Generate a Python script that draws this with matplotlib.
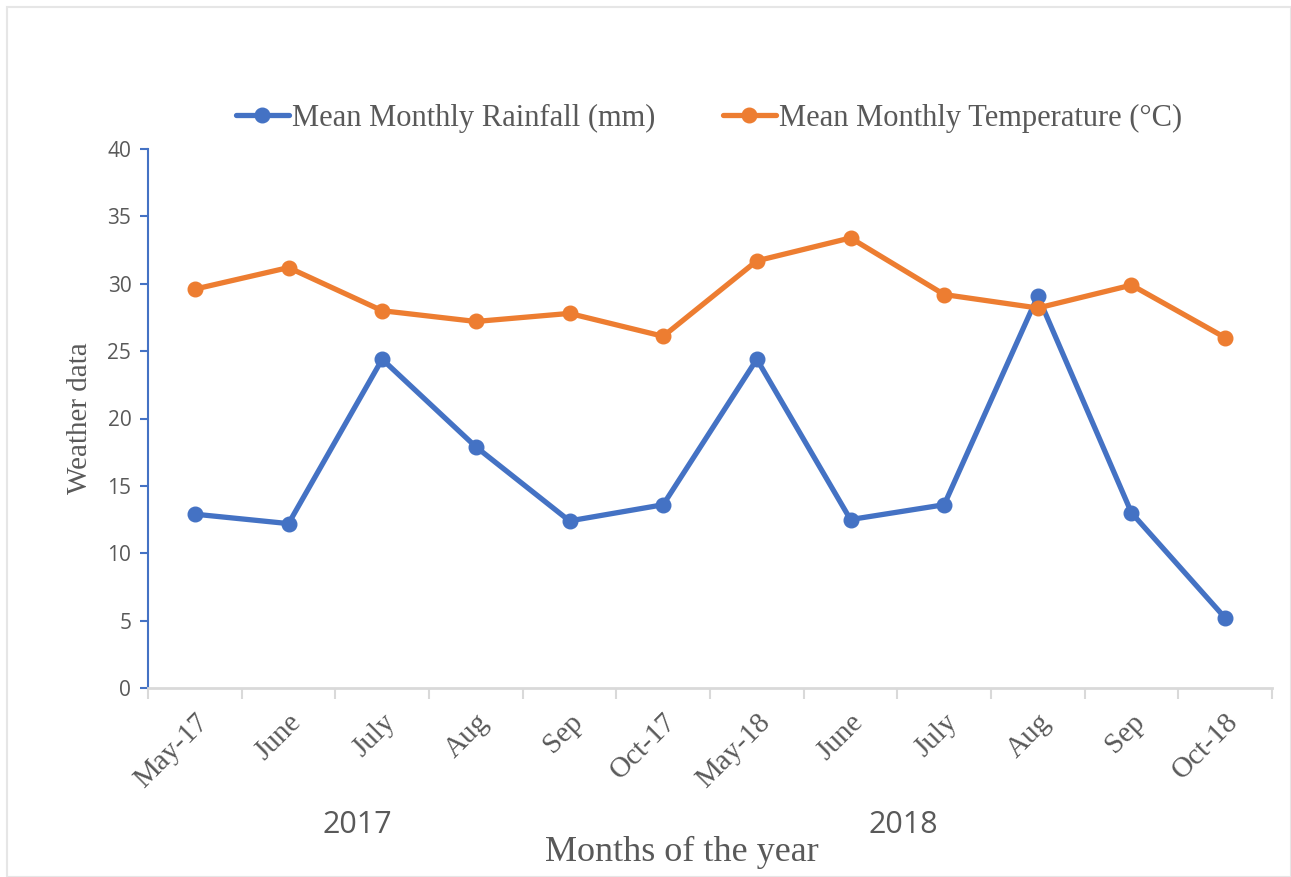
import matplotlib
matplotlib.use("Agg")
import matplotlib.pyplot as plt
from matplotlib.patches import Rectangle

months = ["May-17", "June", "July", "Aug", "Sep", "Oct-17",
          "May-18", "June", "July", "Aug", "Sep", "Oct-18"]
rainfall = [12.9, 12.2, 24.4, 17.9, 12.4, 13.6, 24.4, 12.5, 13.6, 29.1, 13.0, 5.2]
temperature = [29.6, 31.2, 28.0, 27.2, 27.8, 26.1, 31.7, 33.4, 29.2, 28.2, 29.9, 26.0]
years = ["2017", "2018"]
year_pos = [1.73, 7.56]
yticks = [0, 5, 10, 15, 20, 25, 30, 35, 40]

blue = "#4472C4"
orange = "#ED7D31"
gray = "#595959"
serif = ["Liberation Serif", "DejaVu Serif"]
sans = ["Open Sans", "DejaVu Sans"]

fig = plt.figure(figsize=(12.91, 8.77), dpi=100)
fig.patches.append(Rectangle((7/1291, 0), 1 - 7/1291, 1 - 7/877, transform=fig.transFigure,
                             fill=False, edgecolor="#e6e6e6", linewidth=1.5))
ax = fig.add_axes([148/1291, 1 - 688/877, (1272 - 148)/1291, (688 - 149)/877])

x = list(range(len(months)))
ax.plot(x, rainfall, color=blue, lw=3.8, marker="o", ms=10.5, label="Mean Monthly Rainfall (mm)",
        solid_capstyle="round")
ax.plot(x, temperature, color=orange, lw=3.8, marker="o", ms=10.5, label="Mean Monthly Temperature (°C)",
        solid_capstyle="round")

ax.set_xlim(-0.5, len(months) - 0.5)
ax.set_ylim(0, 40)
ax.set_yticks(yticks)
ax.set_yticklabels([str(v) for v in yticks], fontfamily=sans, fontsize=15, color=gray)
ax.tick_params(axis="y", colors=blue, labelcolor=gray, length=6, width=1.5, pad=6, direction="out")

ax.set_xticks([i - 0.5 for i in range(len(months) + 1)], minor=False)
ax.set_xticklabels([""] * (len(months) + 1))
ax.set_xticks(x, minor=True)
ax.set_xticklabels(months, minor=True, rotation=45, ha="right", va="top", rotation_mode="anchor",
                   fontfamily=serif, fontsize=21, color=gray)
ax.tick_params(axis="x", which="major", length=8, width=1.5, color="#d9d9d9")
ax.tick_params(axis="x", which="minor", length=0, pad=15)

for s in ["top", "right"]:
    ax.spines[s].set_visible(False)
ax.spines["left"].set_color(blue)
ax.spines["left"].set_linewidth(1.5)
ax.spines["bottom"].set_color("#d9d9d9")
ax.spines["bottom"].set_linewidth(2)

for yr, p in zip(years, year_pos):
    ax.text(p, -0.255, yr, transform=ax.get_xaxis_transform(), ha="center", va="center",
            fontfamily=sans, fontsize=22, color=gray)

fig.text(80/1291, 1 - 418/877, "Weather data", rotation=90, ha="center", va="center",
         fontfamily=serif, fontsize=21, color=gray)
fig.text(682/1291, 1 - 852/877, "Months of the year", ha="center", va="center",
         fontfamily=serif, fontsize=26, color=gray)

leg = fig.legend(loc="center", bbox_to_anchor=(709/1291, 1 - 118/877), ncol=2, frameon=False,
                 prop={"family": serif, "size": 22}, handlelength=1.75, handletextpad=0.1,
                 columnspacing=2.2, markerscale=1.0)
for t in leg.get_texts():
    t.set_color(gray)

fig.savefig("out.png", dpi=100)
